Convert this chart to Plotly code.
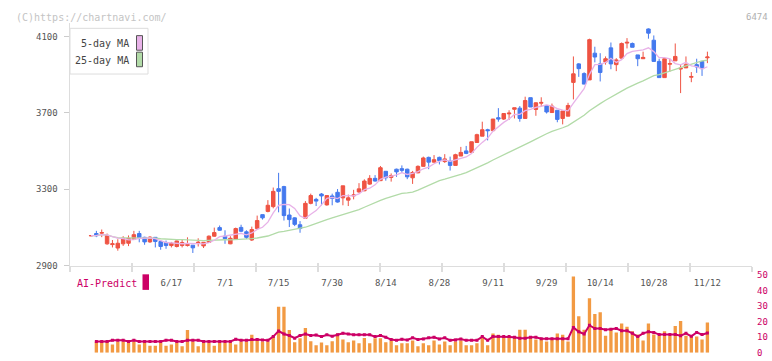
import pandas as pd
import plotly.graph_objects as go

W, H = 772, 361

# ---------------- data ----------------
holidays = ['2025-07-21', '2025-08-11', '2025-09-15', '2025-09-23', '2025-10-13', '2025-11-03']
dates = pd.bdate_range('2025-05-27', '2025-11-12', freq='C', holidays=holidays).strftime('%Y-%m-%d').tolist()

tick_dates = ['2025-06-17', '2025-07-01', '2025-07-15', '2025-07-30', '2025-08-14', '2025-08-28',
              '2025-09-11', '2025-09-29', '2025-10-14', '2025-10-28', '2025-11-12']
tick_labels = ['6/17', '7/1', '7/15', '7/30', '8/14', '8/28', '9/11', '9/29', '10/14', '10/28', '11/12']

open_ = [3056, 3068, 3070, 3014, 3010, 2992, 3014, 3017, 3038, 3068,
         3048, 3024, 3048, 3026, 3021, 3005, 3000, 3005, 3005, 3007,
         3019, 3003, 3021, 3054, 3099, 3054, 3014, 3039, 3100, 3077,
         3034, 3094, 3167, 3184, 3209, 3303, 3314, 3165, 3150, 3114,
         3148, 3226, 3247, 3275, 3218, 3265, 3284, 3255, 3243, 3265,
         3286, 3292, 3327, 3357, 3345, 3394, 3362, 3405, 3408, 3405,
         3360, 3386, 3420, 3467, 3442, 3467, 3445, 3447, 3425, 3474,
         3501, 3493, 3545, 3578, 3612, 3607, 3675, 3668, 3695, 3719,
         3725, 3671, 3780, 3718, 3751, 3739, 3702, 3714, 3671, 3683,
         3860, 3957, 3906, 3873, 4013, 3957, 3967, 4041, 3953, 3987,
         4066, 4064, 4004, 3984, 4140, 4081, 3970, 3885, 3955, 3973,
         3930, 3936, 3887, 3953, 3970, 3989]
high = [3058, 3082, 3089, 3068, 3034, 3038, 3054, 3058, 3082, 3082,
        3051, 3054, 3048, 3034, 3031, 3024, 3031, 3034, 3048, 3007,
        3043, 3022, 3058, 3099, 3110, 3085, 3054, 3099, 3114, 3085,
        3104, 3162, 3167, 3243, 3309, 3386, 3318, 3199, 3153, 3133,
        3238, 3277, 3255, 3280, 3267, 3277, 3301, 3318, 3272, 3297,
        3332, 3352, 3374, 3374, 3422, 3394, 3383, 3408, 3425, 3408,
        3396, 3425, 3471, 3471, 3479, 3471, 3484, 3471, 3486, 3522,
        3527, 3549, 3591, 3654, 3617, 3668, 3725, 3697, 3714, 3727,
        3736, 3785, 3780, 3756, 3782, 3739, 3749, 3714, 3710, 3753,
        3996, 3961, 3913, 4089, 4047, 4013, 3996, 4069, 3987, 4069,
        4092, 4069, 4004, 4021, 4143, 4106, 3984, 3984, 3984, 4064,
        3953, 3996, 3914, 3984, 3970, 4021]
low = [3054, 3049, 3049, 3009, 2995, 2978, 3003, 3002, 3034, 3022,
       3009, 3019, 2995, 2983, 2988, 2995, 2995, 2995, 3000, 2966,
       3000, 2992, 3019, 3051, 3082, 3014, 3012, 3036, 3075, 3039,
       3029, 3094, 3141, 3179, 3200, 3179, 3136, 3102, 3107, 3072,
       3145, 3221, 3212, 3216, 3214, 3216, 3230, 3216, 3212, 3247,
       3281, 3290, 3323, 3340, 3343, 3345, 3340, 3365, 3386, 3353,
       3328, 3384, 3418, 3405, 3440, 3430, 3438, 3398, 3425, 3474,
       3484, 3493, 3545, 3578, 3556, 3607, 3654, 3663, 3663, 3671,
       3654, 3671, 3731, 3685, 3731, 3697, 3702, 3651, 3640, 3683,
       3771, 3889, 3851, 3873, 3965, 3865, 3953, 3929, 3919, 3987,
       4038, 4044, 3945, 3984, 4089, 3967, 3885, 3885, 3916, 3973,
       3804, 3936, 3861, 3910, 3894, 3961]
close = [3057, 3056, 3073, 3058, 3014, 3017, 3043, 3043, 3062, 3046,
         3024, 3049, 3026, 3000, 3005, 3017, 3029, 3021, 3010, 2993,
         3022, 3022, 3054, 3073, 3085, 3041, 3043, 3094, 3080, 3048,
         3089, 3136, 3150, 3216, 3289, 3289, 3162, 3141, 3116, 3094,
         3226, 3267, 3238, 3265, 3267, 3252, 3233, 3318, 3255, 3270,
         3302, 3343, 3357, 3343, 3413, 3360, 3372, 3391, 3399, 3365,
         3388, 3420, 3464, 3442, 3455, 3450, 3459, 3425, 3481, 3493,
         3488, 3549, 3586, 3612, 3607, 3668, 3668, 3697, 3699, 3727,
         3671, 3765, 3731, 3753, 3755, 3705, 3736, 3666, 3710, 3739,
         3905, 3932, 3851, 4084, 3993, 3912, 3984, 3957, 3978, 4064,
         4070, 4044, 3984, 3991, 4118, 3970, 3885, 3984, 3959, 3996,
         3934, 3953, 3891, 3941, 3932, 3993]

volume = [None, 7.3, 7.3, 7.3, 5.4, 7.3, 7.3, 6.4, 7.3, 5.4,
          6.4, 4.6, 4.6, 6.4, 4.6, 5.4, 6.4, 4.2, 14.7, 7.3,
          4.2, 6.4, 6.4, 4.6, 6.4, 6.4, 6.4, 5.4, 7.3, 7.3,
          11.6, 8.5, 7.3, 7.3, 10.6, 29.6, 29.6, 14.7, 6.8, 9.3,
          16.0, 7.5, 4.8, 6.6, 4.8, 7.5, 12.4, 8.5, 6.8, 7.9,
          6.2, 9.5, 6.2, 9.3, 9.3, 6.8, 7.7, 4.8, 6.2, 6.2,
          7.9, 4.2, 6.2, 4.8, 7.9, 5.4, 7.3, 4.8, 7.3, 7.9,
          4.8, 4.8, 6.2, 10.4, 4.8, 12.4, 11.6, 10.4, 10.4, 10.4,
          14.8, 14.8, 10.4, 8.5, 8.5, 7.3, 8.5, 12.4, 11.6, 7.3,
          49.0, 23.5, 14.8, 35.0, 25.0, 26.0, 11.0, 14.8, 13.1, 18.8,
          16.7, 13.8, 11.7, 7.9, 18.8, 11.7, 11.0, 13.8, 11.0, 17.3,
          20.4, 11.0, 11.0, 10.4, 8.5, 19.4]

ai_predict = [None, 7.3, 7.3, 7.3, 8.1, 8.1, 8.1, 7.3, 8.1, 7.3,
              7.3, 7.3, 7.3, 7.3, 8.1, 8.1, 7.3, 7.3, 8.1, 8.1,
              8.1, 7.3, 7.3, 7.3, 7.3, 7.3, 7.3, 8.7, 8.1, 8.1,
              8.5, 8.5, 8.3, 8.0, 10.4, 14.0, 12.1, 11.1, 9.4, 11.1,
              12.1, 11.1, 11.4, 10.4, 11.6, 10.6, 11.6, 12.6, 12.1, 11.6,
              11.6, 11.6, 11.6, 10.4, 11.1, 10.0, 8.5, 8.0, 8.7, 8.3,
              9.6, 8.5, 8.9, 9.6, 10.0, 8.9, 9.6, 8.0, 8.3, 8.9,
              8.0, 8.0, 8.0, 10.4, 8.0, 10.4, 10.4, 10.4, 10.4, 10.0,
              9.4, 9.4, 10.0, 10.0, 9.0, 9.0, 9.0, 9.0, 9.0, 9.0,
              16.3, 13.5, 12.1, 17.7, 15.6, 15.6, 14.8, 15.2, 15.6, 14.2,
              14.2, 12.5, 10.4, 12.5, 13.5, 13.1, 11.7, 11.7, 11.7, 11.7,
              11.0, 12.5, 10.6, 13.1, 11.7, 12.7]

price_ticks = [2900, 3300, 3700, 4100]
ai_ticks = [0, 10, 20, 30, 40, 50]

close_s = pd.Series(close, dtype=float)
ma5 = close_s.rolling(5, min_periods=1).mean().tolist()
ma25 = close_s.rolling(25, min_periods=1).mean().tolist()

# ---------------- styling ----------------
RED = '#EF5343'
BLUE = '#4479EE'
PINK = '#E8B2E8'
GREEN = '#B2DBA8'
ORANGE = '#F29A43'
MAGENTA = '#CC0066'
FONT = 'DejaVu Sans Mono'


def fx(px):
    return px / W


def fy(py):
    return 1 - py / H


# pixel geometry of the plot areas
X_L, X_R = 70, 752
Y_BOT, Y_TOP = 268, 18
PX_PER_UNIT = 78.5 / 400.0
y_hi = 2900 + (Y_BOT - Y_TOP) / PX_PER_UNIT
STEP = 5.36
x_lo = -(91 - X_L) / STEP
x_hi = 115 + (X_R - 707.4) / STEP

fig = go.Figure()

# moving averages first so candles sit on top
fig.add_trace(go.Scatter(x=dates, y=ma25, mode='lines', line=dict(color=GREEN, width=1.3),
                         xaxis='x', yaxis='y', showlegend=False, hoverinfo='skip'))
fig.add_trace(go.Scatter(x=dates, y=ma5, mode='lines', line=dict(color=PINK, width=1.3),
                         xaxis='x', yaxis='y', showlegend=False, hoverinfo='skip'))

fig.add_trace(go.Candlestick(
    x=dates, open=open_, high=high, low=low, close=close,
    increasing=dict(line=dict(color=RED, width=1), fillcolor=RED),
    decreasing=dict(line=dict(color=BLUE, width=1), fillcolor=BLUE),
    whiskerwidth=0, xaxis='x', yaxis='y', showlegend=False, hoverinfo='skip'))

fig.add_trace(go.Bar(x=dates, y=volume, marker=dict(color=ORANGE, line=dict(width=0)), width=0.62,
                     xaxis='x2', yaxis='y2', showlegend=False, hoverinfo='skip'))
fig.add_trace(go.Scatter(x=dates, y=ai_predict, mode='lines+markers',
                         line=dict(color=MAGENTA, width=2),
                         marker=dict(symbol='square', size=3, color=MAGENTA),
                         xaxis='x2', yaxis='y2', showlegend=False, hoverinfo='skip'))

# invisible helper traces for the decorative, evenly spaced ticks on the axis line
fig.add_trace(go.Scatter(x=[0, 11], y=[None, None], xaxis='x3', yaxis='y', showlegend=False, hoverinfo='skip'))
fig.add_trace(go.Scatter(x=[0, 11], y=[None, None], xaxis='x4', yaxis='y', showlegend=False, hoverinfo='skip'))

xdom = [fx(X_L), fx(X_R)]
fig.update_layout(
    width=W, height=H, margin=dict(l=0, r=0, t=0, b=0),
    paper_bgcolor='white', plot_bgcolor='white',
    boxgap=0.35, boxgroupgap=0, bargap=0.3, hovermode=False,
    font=dict(family=FONT, size=9, color='#555555'),
    xaxis=dict(domain=xdom, type='category', range=[x_lo, x_hi], anchor='y',
               tickvals=tick_dates, ticktext=tick_labels, ticks='', showgrid=False, zeroline=False,
               showline=True, linecolor='#DDDDDD', linewidth=1.5,
               tickfont=dict(family=FONT, size=9, color='#555555'), ticklabelstandoff=8,
               rangeslider=dict(visible=False)),
    xaxis2=dict(domain=xdom, type='category', matches='x', anchor='y2', showticklabels=False,
                ticks='', showgrid=False, zeroline=False, showline=False),
    xaxis3=dict(domain=xdom, overlaying='x', anchor='y', range=[0, 11], tickvals=list(range(12)),
                ticks='outside', ticklen=5, tickcolor='#DDDDDD', tickwidth=1.5, showticklabels=False,
                showgrid=False, zeroline=False, showline=False),
    xaxis4=dict(domain=xdom, overlaying='x', anchor='y', range=[0, 11], tickvals=list(range(12)),
                ticks='inside', ticklen=3, tickcolor='#DDDDDD', tickwidth=1.5, showticklabels=False,
                showgrid=False, zeroline=False, showline=False),
    yaxis=dict(domain=[fy(Y_BOT), fy(Y_TOP)], range=[2900, y_hi], anchor='x',
               tickvals=price_ticks, ticks='outside', ticklen=5, tickcolor='#CCCCCC',
               showline=True, linecolor='#DDDDDD', linewidth=1.5, showgrid=False, zeroline=False,
               tickfont=dict(family=FONT, size=9, color='#555555'), ticklabelstandoff=4),
    yaxis2=dict(domain=[fy(357.7), fy(277.7)], range=[0, 50], anchor='x2', side='right',
                tickvals=ai_ticks, ticks='', showgrid=False, zeroline=False, showline=False,
                tickfont=dict(family=FONT, size=9, color=MAGENTA), ticklabelstandoff=4),
)

shapes = [
    dict(type='rect', xref='paper', yref='paper', x0=fx(70), x1=fx(148), y0=fy(71), y1=fy(24),
         line=dict(color='#DDDDDD', width=1), fillcolor='white', layer='above'),
    dict(type='rect', xref='paper', yref='paper', x0=fx(136.5), x1=fx(142.5), y0=fy(46.5), y1=fy(31.5),
         line=dict(color='#555555', width=1), fillcolor=PINK, layer='above'),
    dict(type='rect', xref='paper', yref='paper', x0=fx(136.5), x1=fx(142.5), y0=fy(63.5), y1=fy(48.5),
         line=dict(color='#555555', width=1), fillcolor=GREEN, layer='above'),
    dict(type='rect', xref='paper', yref='paper', x0=fx(142.5), x1=fx(149), y0=fy(293), y1=fy(277),
         line=dict(width=0), fillcolor=MAGENTA, layer='above'),
]
annotations = [
    dict(text='(C)https://chartnavi.com/', xref='paper', yref='paper', x=fx(14), y=fy(12.5),
         xanchor='left', yanchor='middle', showarrow=False, font=dict(family=FONT, size=10, color='#C4C4C4')),
    dict(text='6474', xref='paper', yref='paper', x=fx(770), y=fy(12.5),
         xanchor='right', yanchor='middle', showarrow=False, font=dict(family=FONT, size=9, color='#B0B0B0')),
    dict(text='5-day MA', xref='paper', yref='paper', x=fx(131), y=fy(40),
         xanchor='right', yanchor='middle', showarrow=False, font=dict(family=FONT, size=10, color='#444444')),
    dict(text='25-day MA', xref='paper', yref='paper', x=fx(131), y=fy(57),
         xanchor='right', yanchor='middle', showarrow=False, font=dict(family=FONT, size=10, color='#444444')),
    dict(text='AI-Predict', xref='paper', yref='paper', x=fx(75), y=fy(286),
         xanchor='left', yanchor='middle', showarrow=False, font=dict(family=FONT, size=10, color=MAGENTA)),
]
fig.update_layout(shapes=shapes, annotations=annotations)

fig.write_html('out.html', config={'displayModeBar': False, 'staticPlot': True},
               post_script="document.body.style.margin='0';document.body.style.overflow='hidden';")
